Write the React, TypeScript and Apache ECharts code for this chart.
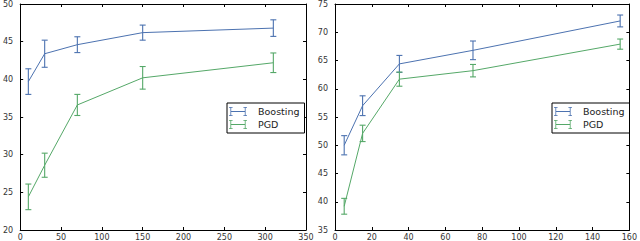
import React, { useEffect, useRef } from "react";
import * as echarts from "echarts";

// Left panel
const leftX = [10, 30, 70, 150, 310];
const leftBoosting = [39.7, 43.4, 44.6, 46.2, 46.8];
const leftBoostingErr = [1.7, 1.8, 1.05, 1.0, 1.1];
const leftPGD = [24.4, 28.6, 36.6, 40.2, 42.2];
const leftPGDErr = [1.7, 1.6, 1.4, 1.5, 1.3];

// Right panel
const rightX = [5, 15, 35, 75, 155];
const rightBoosting = [50.0, 57.0, 64.4, 66.8, 72.0];
const rightBoostingErr = [1.7, 1.75, 1.5, 1.65, 1.05];
const rightPGD = [39.2, 52.1, 61.7, 63.2, 67.9];
const rightPGDErr = [1.4, 1.45, 1.25, 1.1, 0.9];

const seriesNames = ["Boosting", "PGD"];

const BLUE = "#4C72B0";
const GREEN = "#55A868";
const FONT = "DejaVu Sans";

const legendIcon =
  "path://M0,0h4v0.9h-4z M1.55,0h0.9v10h-0.9z M0,9.1h4v0.9h-4z M2,4.55h16v0.9h-16z M16,0h4v0.9h-4z M17.55,0h0.9v10h-0.9z M16,9.1h4v0.9h-4z";

function lineSeries(name: string, xs: number[], ys: number[], color: string, idx: number) {
  return {
    type: "line",
    name,
    xAxisIndex: idx,
    yAxisIndex: idx,
    data: xs.map((x, i) => [x, ys[i]]),
    showSymbol: false,
    symbol: "none",
    color,
    itemStyle: { color },
    lineStyle: { color, width: 1 },
    z: 2,
  };
}

function errSeries(name: string, xs: number[], ys: number[], errs: number[], color: string, idx: number) {
  return {
    type: "custom",
    name,
    xAxisIndex: idx,
    yAxisIndex: idx,
    color,
    itemStyle: { color },
    data: xs.map((x, i) => [x, ys[i] - errs[i], ys[i] + errs[i]]),
    encode: { x: 0, y: [1, 2] },
    z: 3,
    renderItem: (params: any, api: any) => {
      const x = api.value(0);
      const p1 = api.coord([x, api.value(1)]);
      const p2 = api.coord([x, api.value(2)]);
      const w = 3;
      const style = { stroke: color, lineWidth: 1.1, fill: null };
      return {
        type: "group",
        children: [
          { type: "line", shape: { x1: p1[0], y1: p1[1], x2: p2[0], y2: p2[1] }, style },
          { type: "line", shape: { x1: p1[0] - w, y1: p1[1], x2: p1[0] + w, y2: p1[1] }, style },
          { type: "line", shape: { x1: p2[0] - w, y1: p2[1], x2: p2[0] + w, y2: p2[1] }, style },
        ],
      };
    },
  };
}

function xAx(idx: number, min: number, max: number, interval: number, top: boolean) {
  return {
    type: "value",
    gridIndex: idx,
    position: top ? "top" : "bottom",
    min,
    max,
    interval,
    axisLine: { show: true, onZero: false, lineStyle: { color: "#000", width: 1 } },
    axisTick: { show: true, inside: true, length: 3, lineStyle: { color: "#000" } },
    axisLabel: {
      show: !top,
      margin: 3,
      fontSize: 8,
      fontFamily: FONT,
      color: "#333",
      showMinLabel: true,
      showMaxLabel: true,
    },
    splitLine: { show: false },
  };
}

function yAx(idx: number, min: number, max: number, interval: number, right: boolean) {
  return {
    type: "value",
    gridIndex: idx,
    position: right ? "right" : "left",
    min,
    max,
    interval,
    axisLine: { show: true, onZero: false, lineStyle: { color: "#000", width: 1 } },
    axisTick: { show: true, inside: true, length: 3, lineStyle: { color: "#000" } },
    axisLabel: {
      show: !right,
      margin: 7,
      fontSize: 8,
      fontFamily: FONT,
      color: "#333",
      showMinLabel: true,
      showMaxLabel: true,
    },
    splitLine: { show: false },
  };
}

function legend(left: number) {
  return {
    orient: "vertical",
    left,
    top: 103,
    data: seriesNames.map((n) => ({ name: n, icon: legendIcon })),
    itemWidth: 18,
    itemHeight: 9,
    itemGap: 2,
    padding: [3, 5, 3, 2],
    borderColor: "#000",
    borderWidth: 1,
    backgroundColor: "#fff",
    itemStyle: { borderWidth: 0 },
    selectedMode: false,
    textStyle: {
      fontSize: 9.5,
      fontFamily: FONT,
      color: "#222",
      lineHeight: 11,
      padding: [0, 0, 0, 6],
    },
  };
}

export default function App() {
  const ref = useRef<HTMLDivElement>(null);
  useEffect(() => {
    if (!ref.current) return;
    const chart = echarts.init(ref.current, null, { renderer: "svg" });
    chart.setOption({
      animation: false,
      backgroundColor: "#fff",
      grid: [
        { left: 12, top: 4, width: 294, height: 228 },
        { left: 335, top: 4, width: 298, height: 228 },
      ],
      xAxis: [
        xAx(0, 0, 350, 50, false),
        xAx(1, 0, 160, 20, false),
        xAx(0, 0, 350, 50, true),
        xAx(1, 0, 160, 20, true),
      ],
      yAxis: [
        yAx(0, 20, 50, 5, false),
        yAx(1, 35, 75, 5, false),
        yAx(0, 20, 50, 5, true),
        yAx(1, 35, 75, 5, true),
      ],
      legend: [legend(227), legend(552)],
      series: [
        lineSeries(seriesNames[0], leftX, leftBoosting, BLUE, 0),
        lineSeries(seriesNames[1], leftX, leftPGD, GREEN, 0),
        errSeries(seriesNames[0], leftX, leftBoosting, leftBoostingErr, BLUE, 0),
        errSeries(seriesNames[1], leftX, leftPGD, leftPGDErr, GREEN, 0),
        lineSeries(seriesNames[0], rightX, rightBoosting, BLUE, 1),
        lineSeries(seriesNames[1], rightX, rightPGD, GREEN, 1),
        errSeries(seriesNames[0], rightX, rightBoosting, rightBoostingErr, BLUE, 1),
        errSeries(seriesNames[1], rightX, rightPGD, rightPGDErr, GREEN, 1),
      ],
    });
    return () => chart.dispose();
  }, []);
  return (
    <div
      ref={ref}
      style={{ position: "absolute", left: 0, top: 0, width: 640, height: 241 }}
    />
  );
}
